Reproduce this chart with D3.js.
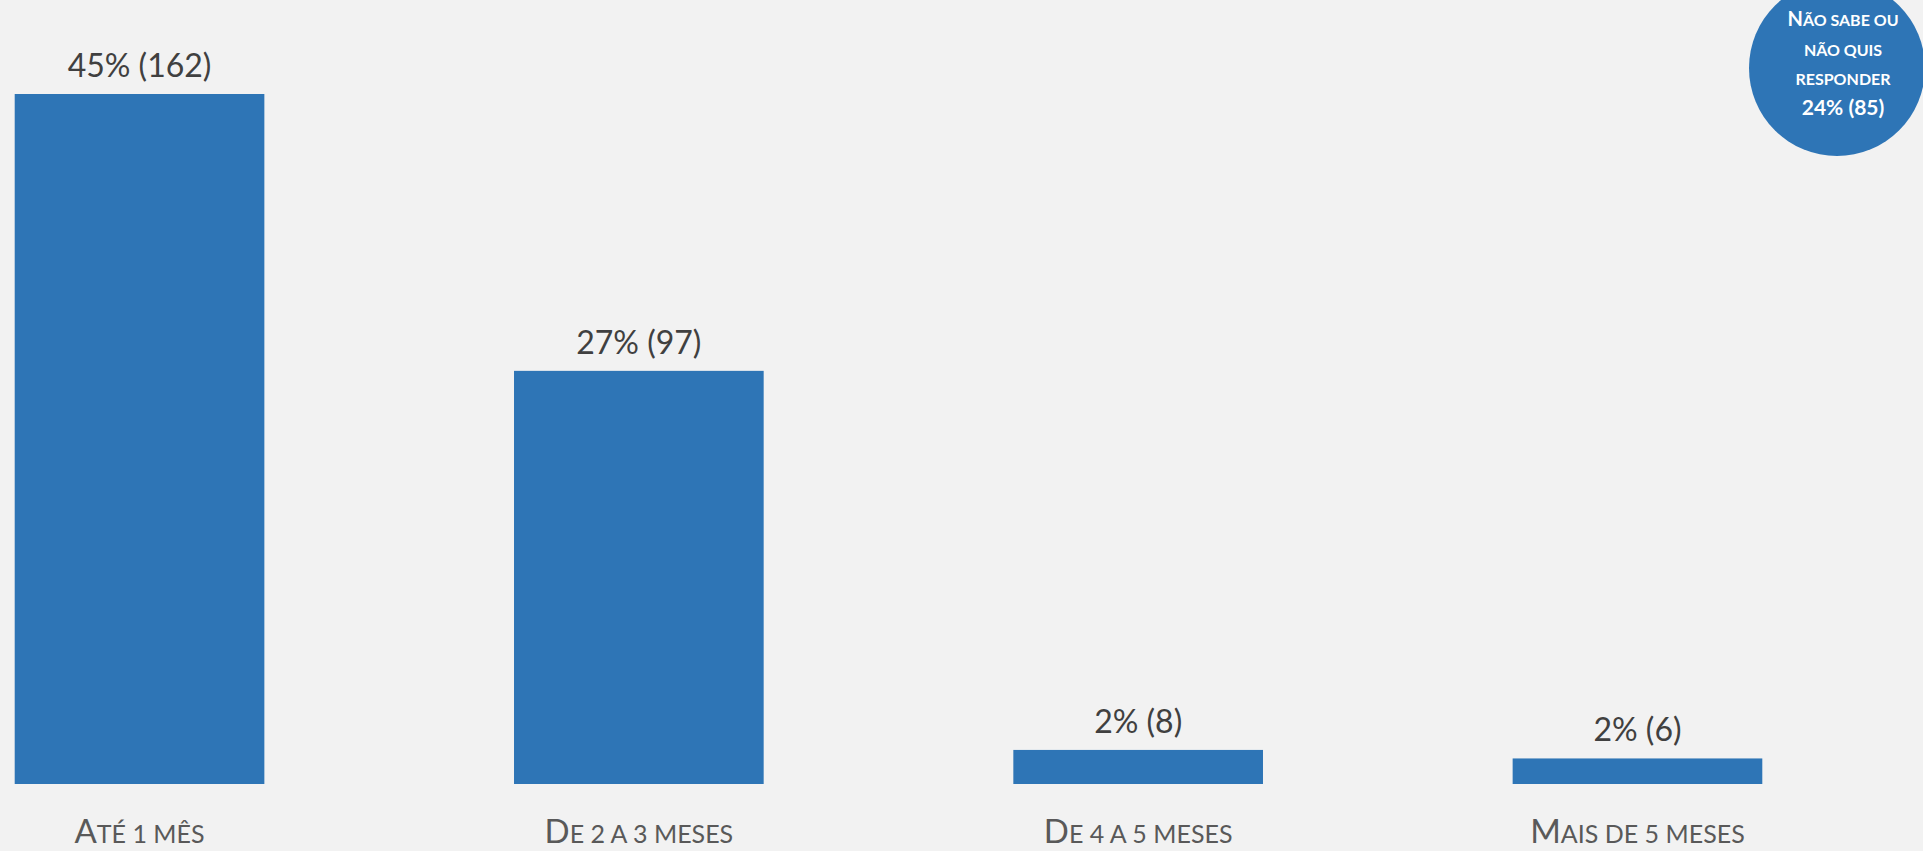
<!DOCTYPE html>
<html>
<head>
<meta charset="utf-8">
<script src="https://cdn.jsdelivr.net/npm/d3@7"></script>
<style>
  html, body { margin: 0; padding: 0; background: #f2f2f2; overflow: hidden; }
  svg { display: block; font-family: Lato, "Open Sans", sans-serif; }
</style>
</head>
<body>
<div id="chart"></div>
<script>
// categories: first letter full size, rest in small caps
const categories = ["Até 1 mês", "De 2 a 3 meses", "De 4 a 5 meses", "Mais de 5 meses"];
const counts = [162, 97, 8, 6];
const percents = [45, 27, 2, 2];

const naLines = ["Não sabe ou", "não quis", "responder"];
const naPercent = 24;
const naCount = 85;

const width = 1923, height = 851;
const barColor = "#2e75b6";

const svg = d3.select("#chart")
    .append("svg")
    .attr("width", width)
    .attr("height", height);

const x = d3.scaleBand()
    .domain(categories)
    .range([14.7, 1762.3])
    .paddingInner(0.5)
    .paddingOuter(0);

const y = d3.scaleLinear()
    .domain([0, d3.max(counts)])
    .range([784, 94]);

const rows = categories.map((c, i) => ({ cat: c, count: counts[i], pct: percents[i] }));

svg.selectAll("rect.bar")
    .data(rows)
    .enter().append("rect")
    .attr("class", "bar")
    .attr("x", d => x(d.cat))
    .attr("y", d => y(d.count))
    .attr("width", x.bandwidth())
    .attr("height", d => y(0) - y(d.count))
    .attr("fill", barColor);

svg.selectAll("text.value")
    .data(rows)
    .enter().append("text")
    .attr("class", "value")
    .attr("x", d => x(d.cat) + x.bandwidth() / 2)
    .attr("y", d => y(d.count) - 17)
    .attr("text-anchor", "middle")
    .attr("fill", "#404040")
    .style("font-size", "32px")
    .text(d => `${d.pct}% (${d.count})`);

// small caps by hand: keep capitals big, shrink the rest
function smallCaps(sel, str, big, small) {
    let buf = "", isBig = null;
    const flush = () => {
        if (!buf) return;
        sel.append("tspan").style("font-size", (isBig ? big : small) + "px").text(buf.toUpperCase());
        buf = "";
    };
    for (const ch of str) {
        const b = ch !== ch.toLowerCase();
        if (isBig !== null && b !== isBig && ch !== " ") flush();
        if (ch !== " ") isBig = b;
        buf += ch;
    }
    flush();
}

svg.selectAll("text.cat")
    .data(rows)
    .enter().append("text")
    .attr("class", "cat")
    .attr("x", d => x(d.cat) + x.bandwidth() / 2)
    .attr("y", 843)
    .attr("text-anchor", "middle")
    .attr("fill", "#595959")
    .each(function(d) { smallCaps(d3.select(this), d.cat, 33, 25); });

// bubble in the corner
const cx = 1837, cy = 68, r = 88;
svg.append("circle")
    .attr("cx", cx)
    .attr("cy", cy)
    .attr("r", r)
    .attr("fill", barColor);

const naText = svg.append("g")
    .attr("fill", "#ffffff")
    .style("font-weight", "bold");

naLines.forEach((line, i) => {
    const t = naText.append("text")
        .attr("x", cx + 6)
        .attr("y", 26 + i * 29.5)
        .attr("text-anchor", "middle");
    smallCaps(t, line, 20, 16);
});

naText.append("text")
    .attr("x", cx + 6)
    .attr("y", 115)
    .attr("text-anchor", "middle")
    .style("font-size", "21px")
    .text(`${naPercent}% (${naCount})`);
</script>
</body>
</html>
